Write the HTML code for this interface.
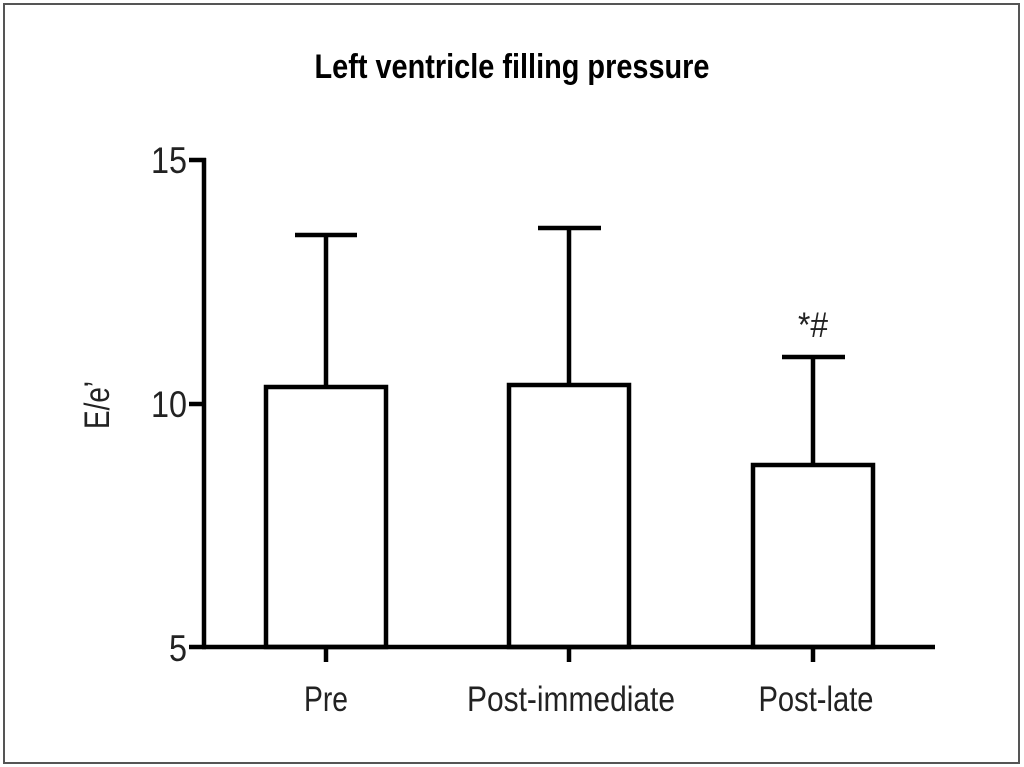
<!DOCTYPE html>
<html><head><meta charset="utf-8"><style>body{margin:0;background:#fff}svg{display:block}</style></head><body>
<svg width="1024" height="767" viewBox="0 0 1024 767" xmlns="http://www.w3.org/2000/svg" font-family="'Liberation Sans Narrow','Liberation Sans',sans-serif">
<rect x="0" y="0" width="1024" height="767" fill="#fff"/>
<rect x="4" y="4" width="1015" height="759" fill="none" stroke="#555" stroke-width="2"/>
<text x="512" y="78" text-anchor="middle" font-size="34" font-weight="bold" textLength="395" lengthAdjust="spacingAndGlyphs">Left ventricle filling pressure</text>
<g stroke="#000" stroke-width="4.5" fill="none" stroke-linecap="butt">
<line x1="204" y1="158" x2="204" y2="649"/>
<line x1="189" y1="160" x2="206" y2="160"/>
<line x1="189" y1="404" x2="206" y2="404"/>
<line x1="189" y1="647" x2="206" y2="647"/>
<line x1="202" y1="647" x2="935" y2="647"/>
<line x1="326" y1="647" x2="326" y2="662"/>
<line x1="569" y1="647" x2="569" y2="662"/>
<line x1="813" y1="647" x2="813" y2="662"/>
<rect x="266" y="387" width="120" height="260"/>
<line x1="326" y1="387" x2="326" y2="235"/>
<line x1="295" y1="235" x2="357" y2="235"/>
<rect x="509" y="385" width="120" height="262"/>
<line x1="569" y1="385" x2="569" y2="228"/>
<line x1="538" y1="228" x2="601" y2="228"/>
<rect x="753" y="465" width="120" height="182"/>
<line x1="813" y1="465" x2="813" y2="357"/>
<line x1="782" y1="357" x2="845" y2="357"/>
</g>
<g font-size="37" fill="#222" text-anchor="end">
<text x="187" y="173" textLength="36" lengthAdjust="spacingAndGlyphs">15</text>
<text x="187" y="417" textLength="36" lengthAdjust="spacingAndGlyphs">10</text>
<text x="187" y="661" textLength="18" lengthAdjust="spacingAndGlyphs">5</text>
</g>
<g font-size="35" fill="#222" text-anchor="middle">
<text x="326" y="711" textLength="44" lengthAdjust="spacingAndGlyphs">Pre</text>
<text x="571" y="711" textLength="208" lengthAdjust="spacingAndGlyphs">Post-immediate</text>
<text x="816" y="711" textLength="115" lengthAdjust="spacingAndGlyphs">Post-late</text>
<text x="813" y="337" textLength="30" lengthAdjust="spacingAndGlyphs">*#</text>
<text transform="translate(109,405) rotate(-90)" textLength="48" lengthAdjust="spacingAndGlyphs">E/e’</text>
</g>
</svg>
</body></html>
